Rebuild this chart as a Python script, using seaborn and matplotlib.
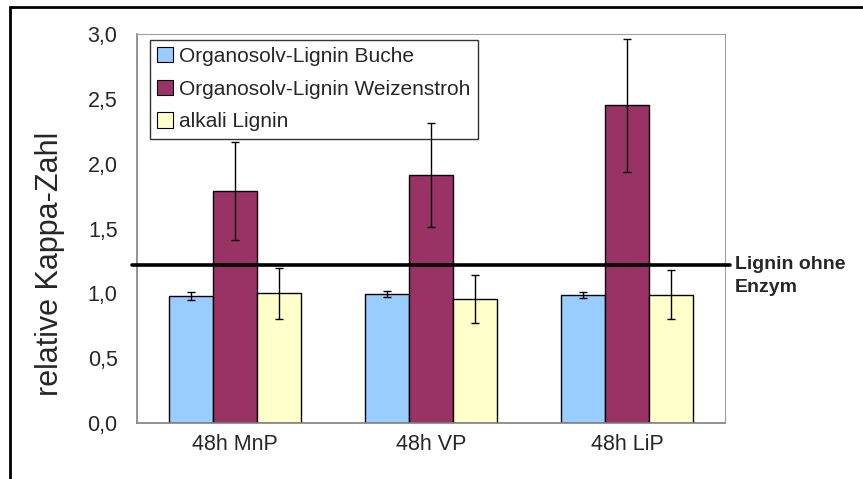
import matplotlib
matplotlib.use("Agg")
import matplotlib.pyplot as plt
import matplotlib.ticker as mticker
from matplotlib.patches import Patch, Rectangle
import seaborn as sns
import pandas as pd

# data
groups = ["48h MnP", "48h VP", "48h LiP"]
series = ["Organosolv-Lignin Buche", "Organosolv-Lignin Weizenstroh", "alkali Lignin"]
buche = [0.98, 0.995, 0.985]
buche_err = [0.028, 0.025, 0.022]
weizen = [1.79, 1.91, 2.45]
weizen_err = [0.375, 0.40, 0.515]
alkali = [1.00, 0.955, 0.99]
alkali_err = [0.195, 0.185, 0.19]
ref_level = 1.22
colors = ["#99CCFF", "#993366", "#FFFFCC"]

rows = []
for s, vals, errs in [(series[0], buche, buche_err), (series[1], weizen, weizen_err), (series[2], alkali, alkali_err)]:
    for g, v, e in zip(groups, vals, errs):
        rows.append({"Gruppe": g, "Serie": s, "Wert": v, "Fehler": e})
df = pd.DataFrame(rows)

sns.set_style("white")
plt.rcParams["font.family"] = ["Liberation Sans", "DejaVu Sans"]

fig = plt.figure(figsize=(8.63, 4.79), dpi=100)
ax = fig.add_axes([137/863, 1-423/479, 588/863, 389/479])

sns.barplot(data=df, x="Gruppe", y="Wert", hue="Serie", order=groups, hue_order=series,
            palette=colors, saturation=1, width=0.673, edgecolor="black", linewidth=1.0,
            errorbar=None, legend=False, ax=ax)

# error bars at the centres of the drawn bars (drawn over the legend, as in the original)
for cont, s in zip(ax.containers, series):
    sub = df[df["Serie"] == s].set_index("Gruppe").loc[groups]
    xs = [p.get_x() + p.get_width()/2 for p in cont.patches]
    ax.errorbar(xs, sub["Wert"], yerr=sub["Fehler"], fmt="none", ecolor="black",
                elinewidth=1.0, capsize=2.6, capthick=1.0, zorder=7)

ax.set_xlim(-0.5, 2.5)
ax.set_ylim(0, 3.0)
ax.set_yticks([0, 0.5, 1.0, 1.5, 2.0, 2.5, 3.0])
ax.yaxis.set_major_formatter(mticker.FuncFormatter(lambda v, p: f"{v:.1f}".replace(".", ",")))
ax.set_xticks([0, 1, 2])
ax.set_xticks([-0.5, 0.5, 1.5, 2.5], minor=True)
ax.tick_params(axis="x", which="major", length=0, labelsize=15.5, pad=8)
ax.tick_params(axis="x", which="minor", length=6, width=1, color="#808080", direction="out")
ax.tick_params(axis="y", length=6, width=1, color="#808080", direction="out", labelsize=15.5, pad=8)
ax.set_xlabel("")
ax.set_ylabel("relative Kappa-Zahl", fontsize=22)
ax.yaxis.set_label_coords(-0.122, 0.41)

for side in ["left", "bottom"]:
    ax.spines[side].set_color("#808080")
    ax.spines[side].set_linewidth(1.2)
for side in ["top", "right"]:
    ax.spines[side].set_color("#a0a0a0")
    ax.spines[side].set_linewidth(0.8)

# reference line "Lignin ohne Enzym"
ax.plot([-0.009, 1.009], [ref_level, ref_level], transform=ax.get_yaxis_transform(),
        color="black", lw=2.6, clip_on=False, zorder=8)
ax.text(1.017, ref_level + 0.065, "Lignin ohne\nEnzym", transform=ax.get_yaxis_transform(),
        fontsize=14, fontweight="bold", va="top", ha="left", linespacing=1.4)

handles = [Patch(facecolor=c, edgecolor="black", linewidth=0.8) for c in colors]
leg = ax.legend(handles, series, loc="upper left", bbox_to_anchor=(0.022, 0.985),
                borderaxespad=0, fontsize=15, frameon=True, fancybox=False,
                edgecolor="black", handlelength=0.75, handleheight=0.75,
                handletextpad=0.3, labelspacing=0.65, borderpad=0.35)
leg.get_frame().set_linewidth(1.0)

# outer chart frame
fig.patches.append(Rectangle((10/863, -0.05), 1.1, 1 - 7/479 + 0.05, transform=fig.transFigure,
                             fill=False, edgecolor="black", linewidth=2.0))

fig.savefig("out.png", dpi=100)
